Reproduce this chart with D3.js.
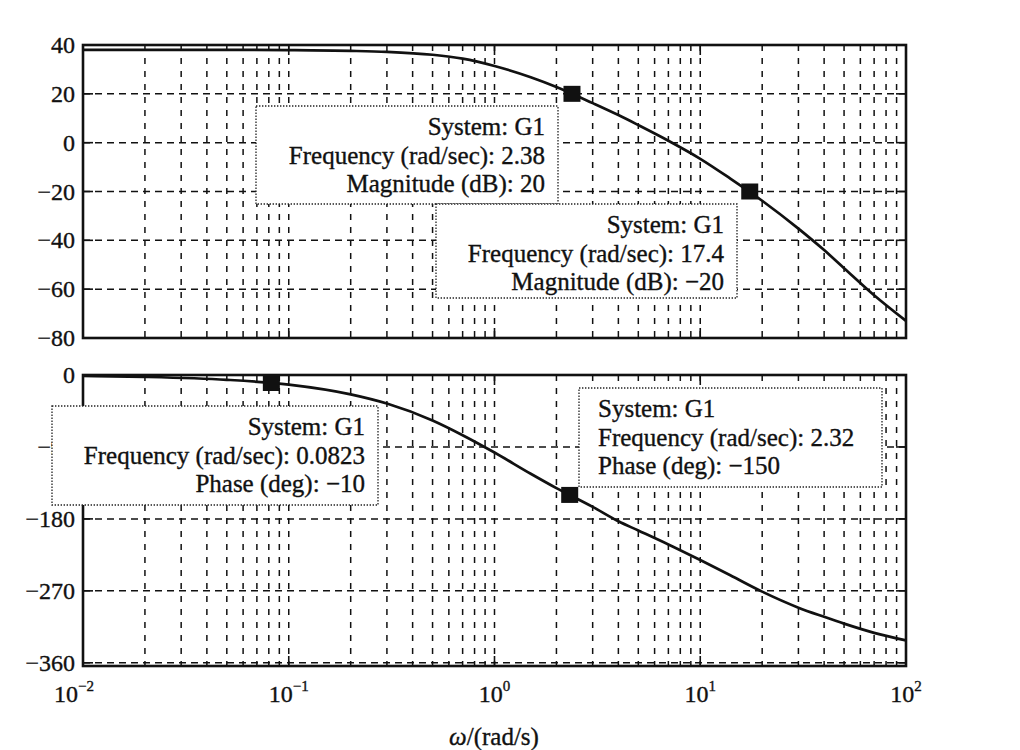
<!DOCTYPE html>
<html>
<head>
<meta charset="utf-8">
<script src="https://cdn.jsdelivr.net/npm/d3@7"></script>
<style>
    body { margin: 0; background: #fff; }
    svg text { font-family: "Liberation Serif", "DejaVu Serif", serif; fill: #111; stroke: #111; stroke-width: 0.35; }
    .grid line { stroke: #111; stroke-width: 1.5; }
    .frame { fill: none; stroke: #111; stroke-width: 2.6; }
    .curve { fill: none; stroke: #111; stroke-width: 2.7; }
    .tipbox { fill: #fff; stroke: #222; stroke-width: 1.3; stroke-dasharray: 1.4, 1.6; }
</style>
</head>
<body>
<div id="graph"></div>
<script>
// frequency samples (rad/s)
var freqs = [0.01, 0.02, 0.05, 0.1, 0.2, 0.3, 0.5, 0.7, 1, 1.5, 2, 3, 4, 5, 7, 10, 14, 20, 30, 40, 50, 70, 100];
var magDb = [38.0, 38.0, 38.0, 37.9, 37.6, 37.2, 36.0, 34.4, 31.4, 26.8, 22.8, 16.2, 11.3, 7.2, 0.8, -6.6, -14.7,
    -23.8, -35.2, -44.0, -51.4, -62.5, -73.0];
var phaseDeg = [-1.2, -2.4, -6.0, -12.0, -24.2, -35.7, -56.9, -75.3, -97.0, -123.5, -141.5, -165.0, -183.0, -194.5,
    -212.0, -231.5, -250.5, -271.0, -291.0, -302.5, -311.0, -322.5, -332.0];

var magTicks = [40, 20, 0, -20, -40, -60, -80];
var phaseTicks = [0, -90, -180, -270, -360];
var decades = [-2, -1, 0, 1, 2];

// data tips
var tipPanel = ['mag', 'mag', 'phase', 'phase'];
var tipFreq = [2.38, 17.4, 0.0823, 2.32];
var tipValue = [20, -20, -10, -150];
var tipFreqText = ['2.38', '17.4', '0.0823', '2.32'];
var tipValueText = ['20', '\u221220', '\u221210', '\u2212150'];
var tipQuantity = ['Magnitude (dB)', 'Magnitude (dB)', 'Phase (deg)', 'Phase (deg)'];

var consts = {
    width: 1020,
    height: 750,
    left: 83,
    right: 906
};

// box placement of each data tip
var tipBoxes = [
    { x: 256, y: 106, w: 302, h: 98, align: 'end' },
    { x: 436, y: 204, w: 301, h: 94, align: 'end' },
    { x: 52, y: 406, w: 326, h: 99, align: 'end' },
    { x: 579, y: 388, w: 303, h: 99, align: 'start' }
];

var vis = d3.select('#graph').append('svg')
    .attr('width', consts.width)
    .attr('height', consts.height);

var x = d3.scaleLog().domain([0.01, 100]).range([consts.left, consts.right]);
var yMag = d3.scaleLinear().domain([-80, 40]).range([338, 45]);
var yPh = d3.scaleLinear().domain([-364, 0]).range([666, 375]);

var minorFreqs = [];
decades.slice(0, 4).forEach(function (d) {
    for (var m = 1; m <= 9; m++) {
        var f = m * Math.pow(10, d);
        if (f > 0.0100001) minorFreqs.push(+f.toPrecision(3));
    }
});

function drawPanel(y, ticks, values, name) {
    var top = y.range()[1], bottom = y.range()[0];
    var g = vis.append('g').attr('class', 'panel ' + name);

    var grid = g.append('g').attr('class', 'grid');
    grid.selectAll('line.v')
        .data(minorFreqs)
        .enter()
        .append('line')
        .attr('class', 'v')
        .attr('x1', function (d) { return x(d); })
        .attr('x2', function (d) { return x(d); })
        .attr('y1', top)
        .attr('y2', bottom)
        .attr('stroke-dasharray', '6,7');
    grid.selectAll('line.h')
        .data(ticks)
        .enter()
        .append('line')
        .attr('class', 'h')
        .attr('x1', consts.left)
        .attr('x2', consts.right)
        .attr('y1', function (d) { return y(d); })
        .attr('y2', function (d) { return y(d); })
        .attr('stroke-dasharray', '7,5');

    // inner tick marks like matlab
    var tk = g.append('g').attr('stroke', '#111').attr('stroke-width', 1.6);
    decades.forEach(function (d) {
        var px = x(Math.pow(10, d));
        tk.append('line').attr('x1', px).attr('x2', px).attr('y1', top).attr('y2', top + 10);
        tk.append('line').attr('x1', px).attr('x2', px).attr('y1', bottom).attr('y2', bottom - 10);
    });
    ticks.forEach(function (t) {
        tk.append('line').attr('x1', consts.left).attr('x2', consts.left + 10).attr('y1', y(t)).attr('y2', y(t));
        tk.append('line').attr('x1', consts.right).attr('x2', consts.right - 10).attr('y1', y(t)).attr('y2', y(t));
    });

    var line = d3.line()
        .x(function (d, i) { return x(freqs[i]); })
        .y(function (d) { return y(d); })
        .curve(d3.curveMonotoneX);
    g.append('path')
        .datum(values)
        .attr('class', 'curve')
        .attr('d', line);

    g.append('rect')
        .attr('class', 'frame')
        .attr('x', consts.left)
        .attr('y', top)
        .attr('width', consts.right - consts.left)
        .attr('height', bottom - top);

    g.selectAll('text.ylab')
        .data(ticks)
        .enter()
        .append('text')
        .attr('class', 'ylab')
        .attr('x', 75)
        .attr('y', function (d) { return y(d) + 8; })
        .attr('text-anchor', 'end')
        .style('font-size', '24px')
        .text(function (d) { return d < 0 ? '\u2212' + Math.abs(d) : d; });
}

drawPanel(yMag, magTicks, magDb, 'mag');
drawPanel(yPh, phaseTicks, phaseDeg, 'phase');

// x tick labels 10^n (first one pushed left like the original)
var xl = vis.selectAll('text.xlab')
    .data(decades)
    .enter()
    .append('text')
    .attr('class', 'xlab')
    .attr('x', function (d, i) { return x(Math.pow(10, d)) - (i === 0 ? 9 : 0); })
    .attr('y', 702)
    .attr('text-anchor', 'middle')
    .style('font-size', '24px');
xl.append('tspan').text('10');
xl.append('tspan')
    .attr('dy', -11)
    .style('font-size', '15px')
    .text(function (d) { return d < 0 ? '\u2212' + Math.abs(d) : d; });

var xt = vis.append('text')
    .attr('x', 494)
    .attr('y', 745)
    .attr('text-anchor', 'middle')
    .style('font-size', '25px');
xt.append('tspan').style('font-style', 'italic').text('\u03c9');
xt.append('tspan').text('/(rad/s)');

// data tips: marker + box
tipFreq.forEach(function (f, i) {
    var y = tipPanel[i] === 'mag' ? yMag : yPh;
    vis.append('rect')
        .attr('x', x(f) - 8.5)
        .attr('y', y(tipValue[i]) - 8)
        .attr('width', 17)
        .attr('height', 16)
        .attr('fill', '#111');

    var b = tipBoxes[i];
    vis.append('rect')
        .attr('class', 'tipbox')
        .attr('x', b.x)
        .attr('y', b.y)
        .attr('width', b.w)
        .attr('height', b.h);
    var lines = ['System: G1',
        'Frequency (rad/sec): ' + tipFreqText[i],
        tipQuantity[i] + ': ' + tipValueText[i]];
    var tx = b.align === 'end' ? b.x + b.w - 13 : b.x + 19;
    vis.selectAll('text.tip' + i)
        .data(lines)
        .enter()
        .append('text')
        .attr('class', 'tip' + i)
        .attr('x', tx)
        .attr('y', function (d, k) { return b.y + 29 + k * 28.5; })
        .attr('text-anchor', b.align)
        .style('font-size', '25px')
        .text(function (d) { return d; });
});
</script>
</body>
</html>
